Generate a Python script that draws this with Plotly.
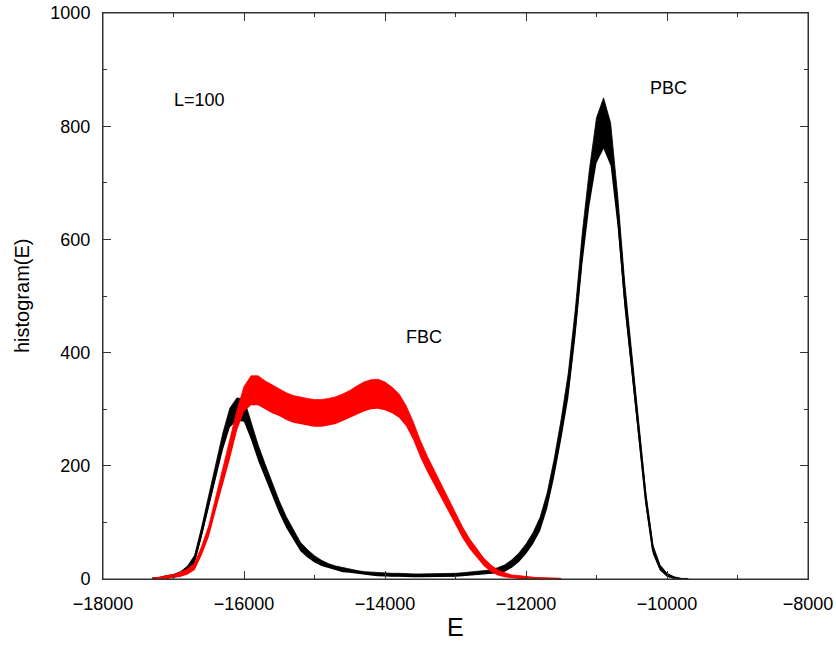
import plotly.graph_objects as go

# ---------------- data ----------------
E_pbc = [-17300, -17200, -17100, -17000, -16900, -16800, -16700, -16600, -16500, -16400,
         -16300, -16200, -16100, -16000, -15900, -15800, -15700, -15600, -15500, -15400,
         -15300, -15200, -15100, -15000, -14900, -14800, -14700, -14600, -14500, -14400,
         -14300, -14200, -14100, -14000, -13900, -13800, -13700, -13600, -13500, -13400,
         -13300, -13200, -13100, -13000, -12900, -12800, -12700, -12600, -12500, -12400,
         -12300, -12200, -12100, -12000, -11900, -11800, -11700, -11600, -11500, -11400,
         -11300, -11200, -11100, -11000, -10900, -10800, -10700, -10600, -10500, -10400,
         -10300, -10200, -10100, -10000, -9900, -9800, -9700]
H_pbc = [0, 1, 3, 5, 9, 18, 35, 83, 137, 192,
         243, 285, 300, 298, 262, 223, 190, 157, 127, 100,
         78, 57, 45, 35, 28, 23, 19, 16, 14, 12,
         10, 9, 8, 7, 7, 7, 6, 6, 6, 6,
         6, 7, 7, 7, 8, 9, 10, 11, 12, 15,
         19, 27, 38, 53, 72, 97, 138, 196, 265, 342,
         452, 585, 692, 775, 805, 768, 650, 500, 380, 260,
         140, 52, 20, 7, 2, 0, 0]
# half-width of the noisy band around the PBC histogram
N_pbc = [2, 2, 3, 3, 4, 5, 7, 9, 11, 13,
         15, 17, 20, 20, 16, 14, 13, 12, 11, 10,
         9, 8, 7, 6, 5, 4, 4, 4, 3, 3,
         3, 3, 3, 3, 3, 3, 3, 3, 3, 3,
         3, 3, 3, 3, 3, 3, 3, 4, 4, 5,
         6, 7, 8, 9, 10, 12, 14, 16, 18, 22,
         25, 28, 32, 40, 45, 38, 28, 24, 20, 16,
         12, 8, 5, 3, 2, 1, 1]

E_fbc = [-17300, -17200, -17100, -17000, -16900, -16800, -16700, -16600, -16500, -16400,
         -16300, -16200, -16100, -16000, -15900, -15800, -15700, -15600, -15500, -15400,
         -15300, -15200, -15100, -15000, -14900, -14800, -14700, -14600, -14500, -14400,
         -14300, -14200, -14100, -14000, -13900, -13800, -13700, -13600, -13500, -13400,
         -13300, -13200, -13100, -13000, -12900, -12800, -12700, -12600, -12500, -12400,
         -12300, -12200, -12100, -12000, -11900, -11800, -11700, -11600, -11500]
H_fbc = [0, 1, 3, 5, 8, 13, 22, 50, 84, 133,
         180, 228, 280, 318, 333, 333, 325, 318, 312, 305,
         300, 297, 295, 293, 293, 295, 298, 303, 309, 316,
         322, 326, 327, 323, 316, 306, 288, 262, 230, 203,
         179, 155, 131, 106, 82, 62, 45, 30, 19, 11,
         7, 4, 3, 2, 1, 1, 0.5, 0, 0]
N_fbc = [2, 2, 3, 3, 4, 5, 6, 8, 10, 12,
         14, 16, 18, 22, 26, 26, 25, 25, 24, 24,
         24, 24, 24, 24, 24, 24, 24, 24, 24, 25,
         26, 26, 26, 25, 23, 21, 18, 16, 15, 14,
         13, 12, 12, 11, 10, 9, 8, 7, 6, 5,
         4, 3, 3, 2, 2, 1, 1, 1, 1]

x_tickvals = [-18000, -16000, -14000, -12000, -10000, -8000]
x_ticktext = ["\u221218000", "\u221216000", "\u221214000", "\u221212000", "\u221210000", "\u22128000"]
y_tickvals = [0, 200, 400, 600, 800, 1000]
y_ticktext = ["0", "200", "400", "600", "800", "1000"]

labels = [("L=100", -16630, 846), ("PBC", -9985, 867), ("FBC", -13443, 427)]

FONT = "Liberation Sans, Arial, Helvetica, sans-serif"
FRAME = "#333333"

fig = go.Figure()


def add_band(E, H, N, color, name):
    lo = [max(h - n, 0) for h, n in zip(H, N)]
    hi = [h + n for h, n in zip(H, N)]
    fig.add_trace(go.Scatter(x=E, y=lo, mode="lines", line=dict(width=0, color=color),
                             hoverinfo="skip", showlegend=False))
    fig.add_trace(go.Scatter(x=E, y=hi, mode="lines", line=dict(width=0.8, color=color),
                             fill="tonexty", fillcolor=color, showlegend=False, name=name))
    fig.add_trace(go.Scatter(x=E, y=H, mode="lines", line=dict(width=2.2, color=color),
                             showlegend=False, name=name))


add_band(E_pbc, H_pbc, N_pbc, "#000000", "PBC")
add_band(E_fbc, H_fbc, N_fbc, "#ff0000", "FBC")

for txt, xv, yv in labels:
    fig.add_annotation(x=xv, y=yv, text=txt, showarrow=False, xref="x", yref="y",
                       font=dict(family=FONT, size=18, color="black"))

fig.add_annotation(x=0.5, y=0, xref="paper", yref="paper", text="E", showarrow=False,
                   yanchor="middle", yshift=-48, font=dict(family=FONT, size=25, color="black"))
fig.add_annotation(x=0, y=0.5, xref="paper", yref="paper", text="histogram(E)", showarrow=False,
                   textangle=-90, xanchor="center", xshift=-81, font=dict(family=FONT, size=20, color="black"))

# plot frame (box around the plotting area)
fig.add_shape(type="rect", xref="paper", yref="paper", x0=0, x1=1, y0=0, y1=1,
              line=dict(color=FRAME, width=1), fillcolor="rgba(0,0,0,0)", layer="above")

axis_common = dict(showline=True, linecolor=FRAME, linewidth=1, mirror="allticks",
                   ticks="inside", ticklen=8, tickwidth=1, tickcolor=FRAME,
                   showgrid=False, zeroline=False, automargin=False,
                   ticklabeloverflow="allow",
                   tickfont=dict(family=FONT, size=18, color="black"))

fig.update_xaxes(range=[-18000, -8000], tickvals=x_tickvals, ticktext=x_ticktext,
                 minor=dict(dtick=1000, tick0=-18000, ticks="inside", ticklen=4, tickcolor=FRAME),
                 ticklabelstandoff=8, **axis_common)
fig.update_yaxes(range=[0, 1000], tickvals=y_tickvals, ticktext=y_ticktext,
                 minor=dict(dtick=100, tick0=0, ticks="inside", ticklen=4, tickcolor=FRAME),
                 ticklabelstandoff=8, **axis_common)

fig.update_layout(width=836, height=648, plot_bgcolor="white", paper_bgcolor="white",
                  margin=dict(l=103, r=28, t=13, b=69, pad=0), showlegend=False,
                  font=dict(family=FONT))

# remove the browser's default 8px body margin so the figure fills the window exactly
fig.write_html("out.html", config={"displayModeBar": False},
               post_script="document.body.style.margin='0';document.body.style.overflow='hidden';")
